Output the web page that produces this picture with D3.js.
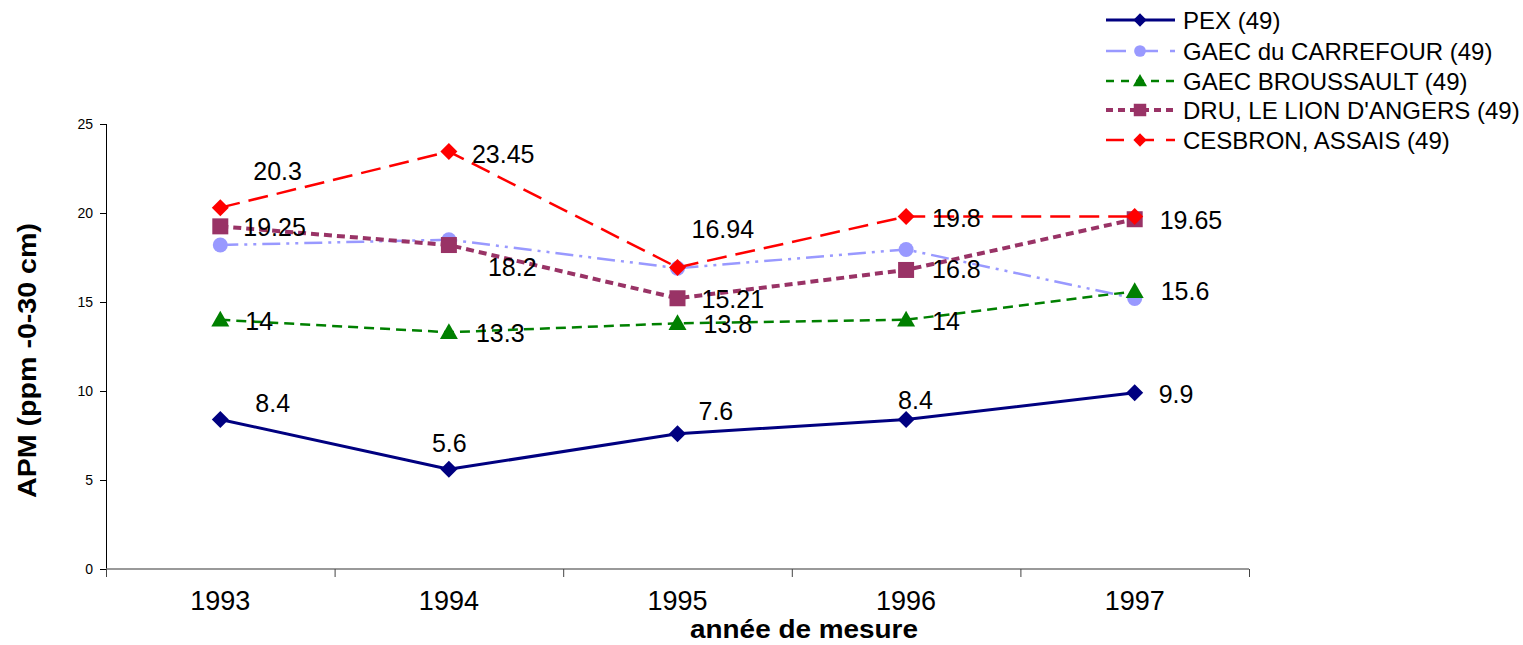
<!DOCTYPE html>
<html>
<head>
<meta charset="utf-8">
<script src="https://cdn.jsdelivr.net/npm/d3@7"></script>
<style>
  html, body { margin: 0; padding: 0; background: #fff; }
  svg { display: block; font-family: "Liberation Sans", Arial, sans-serif; }
</style>
</head>
<body>
<svg id="chart" width="1523" height="645"></svg>
<script>
// Years of measurement
const years = ["1993", "1994", "1995", "1996", "1997"];

// APM values (ppm, 0-30 cm) per farm
const pex        = [8.4, 5.6, 7.6, 8.4, 9.9];
const carrefour  = [18.2, 18.5, 16.9, 17.95, 15.2];
const broussault = [14, 13.3, 13.8, 14, 15.6];
const dru        = [19.25, 18.2, 15.21, 16.8, 19.65];
const cesbron    = [20.3, 23.45, 16.94, 19.8, 19.8];

const seriesNames = [
  "PEX (49)",
  "GAEC du CARREFOUR (49)",
  "GAEC BROUSSAULT (49)",
  "DRU, LE LION D'ANGERS (49)",
  "CESBRON, ASSAIS (49)"
];

const yTicks = [0, 5, 10, 15, 20, 25];

// Which points carry a value label
const showLabel = [
  [true, true, true, true, true],
  [false, false, false, false, false],
  [true, true, true, true, true],
  [true, true, true, true, true],
  [true, true, true, true, false]
];

// Label nudges relative to the point: [dx to text start, dy to baseline]
const labelNudge = [
  [[35, -7], [-17, -17], [21, -14], [-8, -10], [24, 10]],
  [null, null, null, null, null],
  [[25, 10], [27, 10], [26, 10], [26, 10], [26, 9]],
  [[23, 10], [39, 31], [24, 10], [26, 8], [25, 10]],
  [[33, -28], [23, 11], [14, -29], [26, 10], null]
];

// Visual style per series
const styles = [
  { color: "#000080", dash: null,              width: 3,   marker: "diamond",  size: 8.5 },
  { color: "#9999FF", dash: "18,6,3,6,3,6",    width: 2.5, marker: "circle",   size: 7.5 },
  { color: "#008000", dash: "10,6",            width: 2.5, marker: "triangle", size: 9 },
  { color: "#993366", dash: "8,5",             width: 4,   marker: "square",   size: 8 },
  { color: "#FF0000", dash: "20,9",            width: 2.5, marker: "diamond",  size: 8.5 }
];

const allValues = [pex, carrefour, broussault, dru, cesbron];

const svg = d3.select("#chart");

const plot = { left: 106, right: 1249, top: 124, bottom: 569 };

const xBand = d3.scaleBand().domain(years).range([plot.left, plot.right]).paddingInner(0).paddingOuter(0);
const xPos = d => xBand(d) + xBand.bandwidth() / 2;
const y = d3.scaleLinear().domain([0, 25]).range([plot.bottom, plot.top]);

// Marker path generator
function markerPath(type, s) {
  switch (type) {
    case "diamond":  return `M0,${-s}L${s},0L0,${s}L${-s},0Z`;
    case "square":   return `M${-s},${-s}H${s}V${s}H${-s}Z`;
    case "triangle": return `M0,${-s}L${s},${s * 0.75}L${-s},${s * 0.75}Z`;
    case "circle":   return d3.symbol().type(d3.symbolCircle).size(Math.PI * s * s)();
  }
}

// Y axis
const yAxis = svg.append("g")
  .attr("transform", `translate(${plot.left},0)`)
  .call(d3.axisLeft(y).tickValues(yTicks).tickSize(6).tickPadding(7).tickFormat(d3.format("d")));
yAxis.select(".domain").attr("stroke", "#000").attr("stroke-width", 1).attr("d", `M0.5,${plot.top}V${plot.bottom}`);
yAxis.selectAll(".tick line").attr("stroke", "#000");
yAxis.selectAll(".tick text").attr("font-size", 14).attr("fill", "#000").style("font-family", "Liberation Sans, Arial, sans-serif");

// X axis line and category labels
const xAxis = svg.append("g")
  .attr("transform", `translate(0,${plot.bottom})`)
  .call(d3.axisBottom(xBand).tickSize(0).tickPadding(22));
xAxis.select(".domain").attr("stroke", "#777").attr("stroke-width", 1.5).attr("d", `M${plot.left},0H${plot.right}`);
xAxis.selectAll(".tick text").attr("font-size", 27).attr("fill", "#000").style("font-family", "Liberation Sans, Arial, sans-serif");

// Category boundary tick marks
const boundaries = years.map(d => xBand(d)).concat([xBand(years[years.length - 1]) + xBand.bandwidth()]);
svg.append("g").selectAll("line").data(boundaries).join("line")
  .attr("x1", d => d + 0.5).attr("x2", d => d + 0.5)
  .attr("y1", plot.bottom).attr("y2", plot.bottom + 8)
  .attr("stroke", "#444").attr("stroke-width", 1);

// Axis titles
svg.append("text")
  .attr("x", 804).attr("y", 638)
  .attr("text-anchor", "middle")
  .attr("font-size", 26).attr("font-weight", "bold")
  .attr("textLength", 228).attr("lengthAdjust", "spacingAndGlyphs")
  .text("année de mesure");

svg.append("text")
  .attr("transform", `translate(36,${(223 + 498) / 2}) rotate(-90)`)
  .attr("text-anchor", "middle")
  .attr("font-size", 26).attr("font-weight", "bold")
  .attr("textLength", 275).attr("lengthAdjust", "spacingAndGlyphs")
  .text("APM (ppm -0-30 cm)");

// Series lines and markers
const line = d3.line().x((d, i) => xPos(years[i])).y(d => y(d));

allValues.forEach((vals, si) => {
  const st = styles[si];
  const g = svg.append("g");
  g.append("path")
    .attr("d", line(vals))
    .attr("fill", "none")
    .attr("stroke", st.color)
    .attr("stroke-width", st.width)
    .attr("stroke-dasharray", st.dash)
    .attr("stroke-linejoin", "round");
  g.selectAll("path.mk").data(vals).join("path")
    .attr("class", "mk")
    .attr("transform", (d, i) => `translate(${xPos(years[i])},${y(d)})`)
    .attr("d", markerPath(st.marker, st.size))
    .attr("fill", st.color);
});

// Value labels
const labels = svg.append("g").attr("font-size", 25).attr("fill", "#000");
allValues.forEach((vals, si) => {
  vals.forEach((v, i) => {
    if (!showLabel[si][i]) return;
    const [dx, dy] = labelNudge[si][i];
    labels.append("text")
      .attr("x", xPos(years[i]) + dx)
      .attr("y", y(v) + dy)
      .text(String(v));
  });
});

// Legend
const legend = svg.append("g");
const legendRows = [20, 51, 81, 110, 140];
const legendDash = [null, "20,12", "8,7", "7,5", "18,12"];
seriesNames.forEach((name, si) => {
  const st = styles[si];
  const ly = legendRows[si];
  const row = legend.append("g").attr("transform", `translate(0,${ly})`);
  row.append("line")
    .attr("x1", 1106).attr("x2", 1175).attr("y1", 0).attr("y2", 0)
    .attr("stroke", st.color).attr("stroke-width", st.width)
    .attr("stroke-dasharray", legendDash[si]);
  row.append("path")
    .attr("transform", "translate(1140,0)")
    .attr("d", markerPath(st.marker, st.size * 0.78))
    .attr("fill", st.color);
  row.append("text")
    .attr("x", 1183).attr("y", 0).attr("dy", "0.36em")
    .attr("font-size", 24).attr("fill", "#000")
    .text(name);
});
</script>
</body>
</html>
